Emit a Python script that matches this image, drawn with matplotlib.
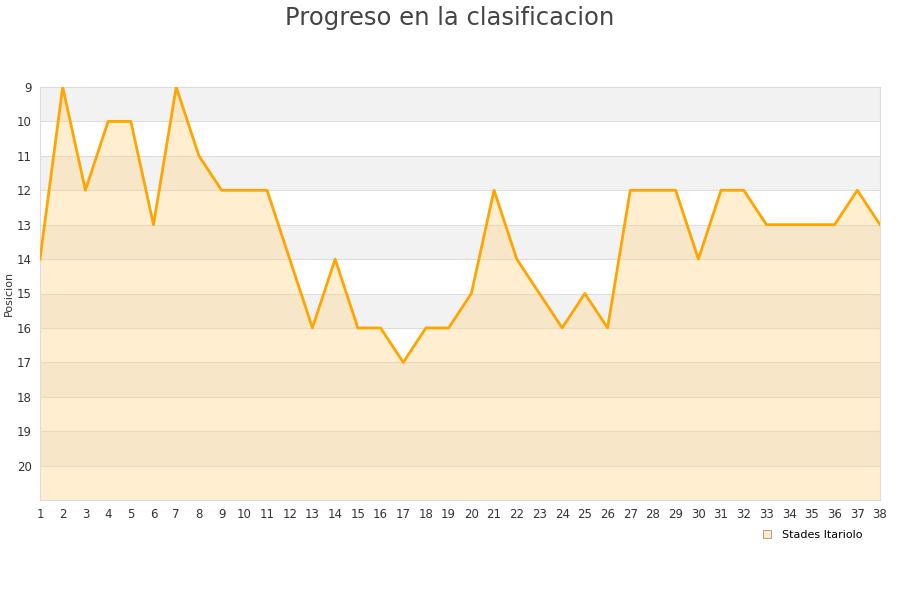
import matplotlib
matplotlib.use('Agg')
from matplotlib import pyplot as plt
from matplotlib.lines import Line2D

# jornadas and league position
jornadas = list(range(1, 39))
posiciones = [14, 9, 12, 10, 10, 13, 9, 11, 12, 12, 12, 14, 16, 14, 16, 16, 17, 16, 16, 15,
              12, 14, 15, 16, 15, 16, 12, 12, 12, 14, 12, 12, 13, 13, 13, 13, 12, 13]
y_ticks = list(range(9, 21))
equipo = 'Stades Itariolo'

fig = plt.figure(figsize=(9, 6), dpi=100)
ax = fig.add_axes([40 / 900, 100 / 600, 840 / 900, 413 / 600])

# alternating bands
for i, y in enumerate(range(9, 21)):
    if i % 2 == 0:
        ax.axhspan(y, y + 1, color='#f2f2f2', zorder=0, lw=0)
for y in range(10, 21):
    ax.axhline(y, color='#dddddd', lw=0.8, zorder=1)

ax.fill_between(jornadas, posiciones, 21, color='#ffd58a', alpha=0.4, lw=0, zorder=2)
ax.plot(jornadas, posiciones, color='#ffa500', lw=2, zorder=3)

ax.set_xlim(1, 38)
ax.set_ylim(21, 9)
ax.set_xticks(jornadas)
ax.set_yticks(y_ticks)
ax.tick_params(length=0, labelsize=8.5, colors='#333333', pad=6)
ax.tick_params(axis='y', pad=6)
for s in ax.spines.values():
    s.set_color('#dddddd')
ax.set_ylabel('Posicion', fontsize=8, color='#333333')
ax.yaxis.set_label_coords(-26 / 840, 0.5)

fig.suptitle('Progreso en la clasificacion', fontsize=17.5, color='#444444', y=0.99)

handle = Line2D([], [], marker='s', linestyle='none', markersize=6,
                markerfacecolor='#ffe9c4', markeredgecolor='#999999', markeredgewidth=0.6)
fig.legend([handle], [equipo], loc='lower right', bbox_to_anchor=(872 / 900, 50 / 600),
           frameon=False, fontsize=8, handletextpad=0.3)

plt.savefig('out.png')
